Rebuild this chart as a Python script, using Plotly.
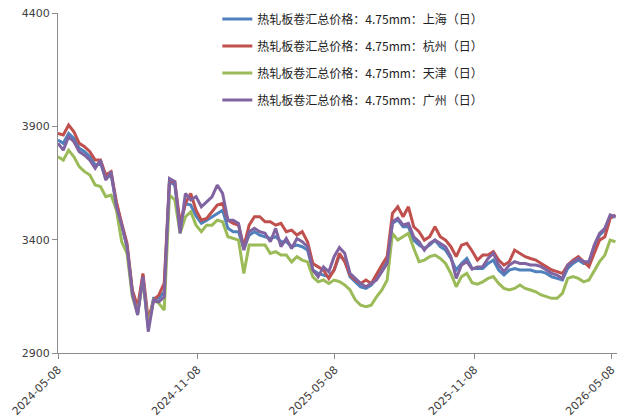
import pandas as pd
import plotly.graph_objects as go

start_date = "2024-05-08"
n_points = 106
dates = pd.date_range(start_date, periods=n_points, freq="7D")

shanghai = [3840, 3825, 3869, 3847, 3803, 3788, 3766, 3729, 3737, 3670,
            3685, 3560, 3464, 3369, 3170, 3075, 3237, 3016, 3141, 3141,
            3170, 3656, 3641, 3457, 3560, 3553, 3505, 3472, 3486, 3501,
            3516, 3530, 3450, 3435, 3435, 3361, 3420, 3435, 3420, 3413,
            3405, 3413, 3391, 3391, 3369, 3376, 3369, 3354, 3266, 3251,
            3244, 3236, 3266, 3330, 3310, 3237, 3214, 3192, 3185, 3200,
            3229, 3266, 3303, 3472, 3487, 3457, 3457, 3398, 3376, 3362,
            3376, 3398, 3369, 3354, 3317, 3266, 3295, 3317, 3273, 3273,
            3273, 3295, 3310, 3266, 3244, 3266, 3273, 3266, 3266, 3266,
            3259, 3259, 3251, 3236, 3229, 3222, 3273, 3295, 3310, 3295,
            3295, 3369, 3420, 3442, 3501, 3501]

hangzhou = [3869, 3862, 3906, 3876, 3825, 3810, 3788, 3751, 3751, 3685,
            3700, 3567, 3472, 3384, 3178, 3104, 3251, 3045, 3134, 3156,
            3207, 3663, 3656, 3472, 3560, 3604, 3530, 3486, 3494, 3523,
            3553, 3560, 3486, 3472, 3464, 3369, 3464, 3501, 3501, 3479,
            3479, 3464, 3472, 3435, 3442, 3420, 3435, 3391, 3295, 3280,
            3266, 3229, 3266, 3340, 3303, 3244, 3222, 3207, 3222, 3207,
            3251, 3288, 3325, 3516, 3545, 3501, 3545, 3457, 3435, 3398,
            3413, 3457, 3413, 3398, 3369, 3325, 3376, 3384, 3350, 3310,
            3332, 3332, 3347, 3310, 3288, 3303, 3354, 3340, 3325, 3317,
            3310, 3295, 3281, 3266, 3259, 3251, 3288, 3310, 3325, 3303,
            3281, 3340, 3398, 3413, 3494, 3509]

tianjin = [3766, 3751, 3795, 3766, 3722, 3700, 3685, 3641, 3634, 3590,
           3597, 3531, 3390, 3339, 3148, 3075, 3222, 3016, 3134, 3119,
           3089, 3597, 3575, 3428, 3501, 3523, 3464, 3435, 3464, 3464,
           3486, 3479, 3413, 3405, 3398, 3251, 3376, 3376, 3376, 3376,
           3339, 3347, 3332, 3332, 3302, 3325, 3310, 3302, 3236, 3214,
           3222, 3207, 3222, 3215, 3200, 3178, 3134, 3111, 3104, 3111,
           3148, 3178, 3222, 3428, 3398, 3413, 3428, 3362, 3303, 3310,
           3325, 3332, 3317, 3295, 3251, 3192, 3237, 3251, 3210, 3204,
           3214, 3229, 3237, 3207, 3185, 3178, 3185, 3200, 3185, 3178,
           3170, 3156, 3148, 3141, 3141, 3163, 3229, 3237, 3229, 3214,
           3222, 3266, 3303, 3332, 3398, 3391]

guangzhou = [3825, 3795, 3854, 3832, 3788, 3773, 3751, 3715, 3751, 3663,
             3700, 3545, 3464, 3369, 3163, 3067, 3237, 2994, 3134, 3126,
             3148, 3670, 3656, 3428, 3604, 3575, 3590, 3545, 3567, 3589,
             3641, 3604, 3486, 3486, 3472, 3354, 3435, 3450, 3435, 3428,
             3391, 3450, 3369, 3405, 3361, 3405, 3391, 3369, 3266, 3236,
             3280, 3258, 3325, 3365, 3340, 3251, 3229, 3207, 3192, 3207,
             3222, 3259, 3295, 3479, 3494, 3465, 3472, 3413, 3391, 3354,
             3384, 3398, 3384, 3369, 3325, 3229, 3288, 3303, 3270, 3280,
             3281, 3317, 3340, 3288, 3259, 3288, 3303, 3295, 3295, 3288,
             3288, 3281, 3266, 3251, 3244, 3229, 3288, 3303, 3317, 3303,
             3303, 3376, 3428, 3450, 3509, 3501]

series_names = [
    "热轧板卷汇总价格：4.75mm：上海（日）",
    "热轧板卷汇总价格：4.75mm：杭州（日）",
    "热轧板卷汇总价格：4.75mm：天津（日）",
    "热轧板卷汇总价格：4.75mm：广州（日）",
]
series_values = [shanghai, hangzhou, tianjin, guangzhou]
series_colors = ["#4F81BD", "#C0504D", "#9BBB59", "#8064A2"]

x_tick_labels = ["2024-05-08", "2024-11-08", "2025-05-08", "2025-11-08", "2026-05-08"]
y_tick_values = [2900, 3400, 3900, 4400]

fig = go.Figure()
for i, (name, vals, col) in enumerate(zip(series_names, series_values, series_colors)):
    fig.add_trace(go.Scatter(
        x=dates, y=vals, name=name, mode="lines",
        line=dict(color=col, width=3),
        legendgroup=f"g{i}",
    ))

axis_font = dict(family="DejaVu Sans", size=11, color="#404040")
fig.update_layout(
    width=627, height=419,
    margin=dict(l=58, r=10, t=13, b=66, autoexpand=False),
    paper_bgcolor="white", plot_bgcolor="white",
    showlegend=True,
    legend=dict(
        x=0.285, y=1.025, xanchor="left", yanchor="top",
        font=dict(family="Noto Sans CJK SC", size=12, color="#222222"),
        bgcolor="rgba(0,0,0,0)",
        traceorder="grouped", tracegroupgap=8,
    ),
    xaxis=dict(
        type="date", automargin=False,
        range=["2024-05-08", "2026-05-15"],
        tickvals=x_tick_labels, ticktext=x_tick_labels,
        tickangle=-45, tickfont=axis_font,
        showgrid=False, zeroline=False,
        showline=True, linecolor="#8c8c8c", linewidth=1,
        ticks="outside", ticklen=5, tickcolor="#8c8c8c",
    ),
    yaxis=dict(
        range=[2900, 4400], automargin=False,
        tickvals=y_tick_values,
        tickfont=axis_font,
        showgrid=False, zeroline=False,
        showline=True, linecolor="#8c8c8c", linewidth=1,
        ticks="outside", ticklen=5, tickcolor="#8c8c8c",
    ),
)

fig.write_html(
    "out.html",
    config={"displayModeBar": False},
    post_script="document.body.style.margin='0';document.body.style.overflow='hidden';",
)
